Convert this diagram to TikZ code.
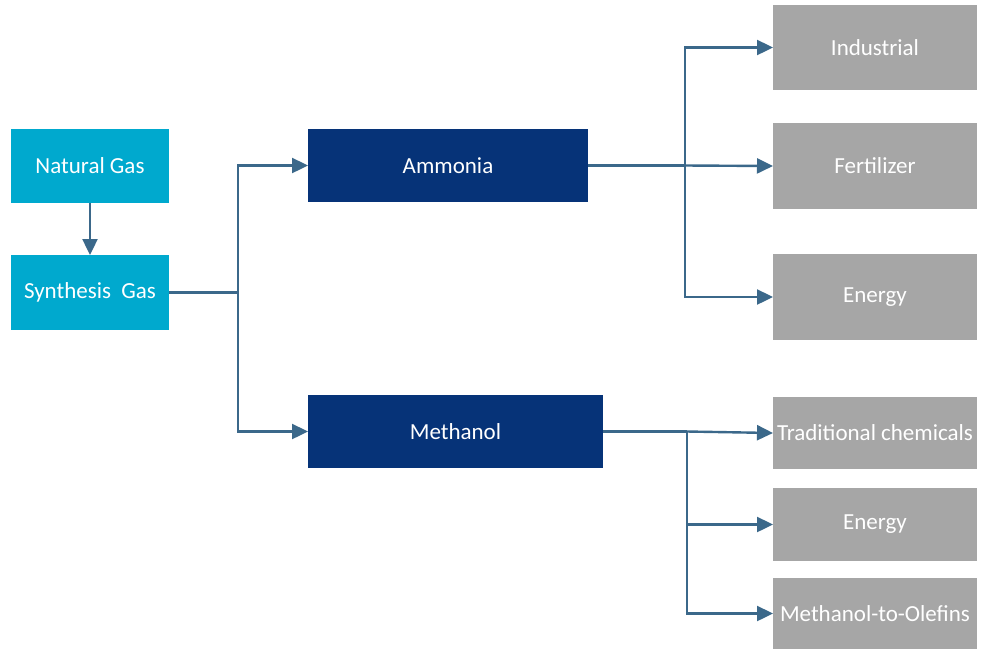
\documentclass[tikz,border=0pt]{standalone}
\usepackage{fontspec}
\setmainfont{Carlito}
\usetikzlibrary{arrows.meta}
\definecolor{cyanbox}{RGB}{0,169,206}
\definecolor{navybox}{RGB}{6,51,120}
\definecolor{graybox}{RGB}{166,166,166}
\definecolor{linec}{RGB}{59,104,138}
\tikzset{
  boxbase/.style={inner sep=0pt, outer sep=0pt, text=white, font=\fontsize{23}{27}\selectfont, anchor=center},
  srcbox/.style={boxbase, fill=cyanbox, minimum width=158pt},
  midbox/.style={boxbase, fill=navybox, minimum height=73pt},
  outbox/.style={boxbase, fill=graybox, minimum width=204pt},
  conn/.style={draw=linec, line width=2.4pt},
  arr/.style={conn, -{Triangle[length=16pt,width=15pt]}},
}
\begin{document}
\begin{tikzpicture}[x=1pt,y=-1pt]
\useasboundingbox (0,0) rectangle (986,649);
% sources
\node[srcbox, minimum height=74pt] (ng) at (90,166) {Natural Gas};
\node[srcbox, minimum height=75pt] (sg) at (90,292.5) {Synthesis\ \ Gas};
% middle
\node[midbox, minimum width=280pt] (am) at (448,165.5) {Ammonia};
\node[midbox, minimum width=295pt] (me) at (455.5,431.5) {Methanol};
% outputs
\node[outbox, minimum height=85pt] (ind) at (875,47.5) {Industrial};
\node[outbox, minimum height=86pt] (fer) at (875,166) {Fertilizer};
\node[outbox, minimum height=86pt] (en1) at (875,297) {Energy};
\node[outbox, minimum height=72pt] (tc) at (875,433) {Traditional chemicals};
\node[outbox, minimum height=73pt] (en2) at (875,524.5) {Energy};
\node[outbox, minimum height=71pt] (mto) at (875,613.5) {Methanol-to-Olefins};
% coordinates for branch points
\coordinate (j1) at (238,292.5);
\coordinate (j2) at (685,165.5);
\coordinate (j3) at (687,431.5);
% connectors
\draw[arr] (ng.south) -- (sg.north);
\draw[conn] (sg.east) -- (j1);
\draw[arr] (j1) |- (am.west);
\draw[arr] (j1) |- (me.west);
\draw[conn] (am.east) -- (j2);
\draw[arr] (j2) -- (fer.west);
\draw[arr] (j2) |- (ind.west);
\draw[arr] (j2) |- (en1.west);
\draw[conn] (me.east) -- (j3);
\draw[arr] (j3) -- (tc.west);
\draw[arr] (j3) |- (en2.west);
\draw[arr] (j3) |- (mto.west);
\end{tikzpicture}
\end{document}
